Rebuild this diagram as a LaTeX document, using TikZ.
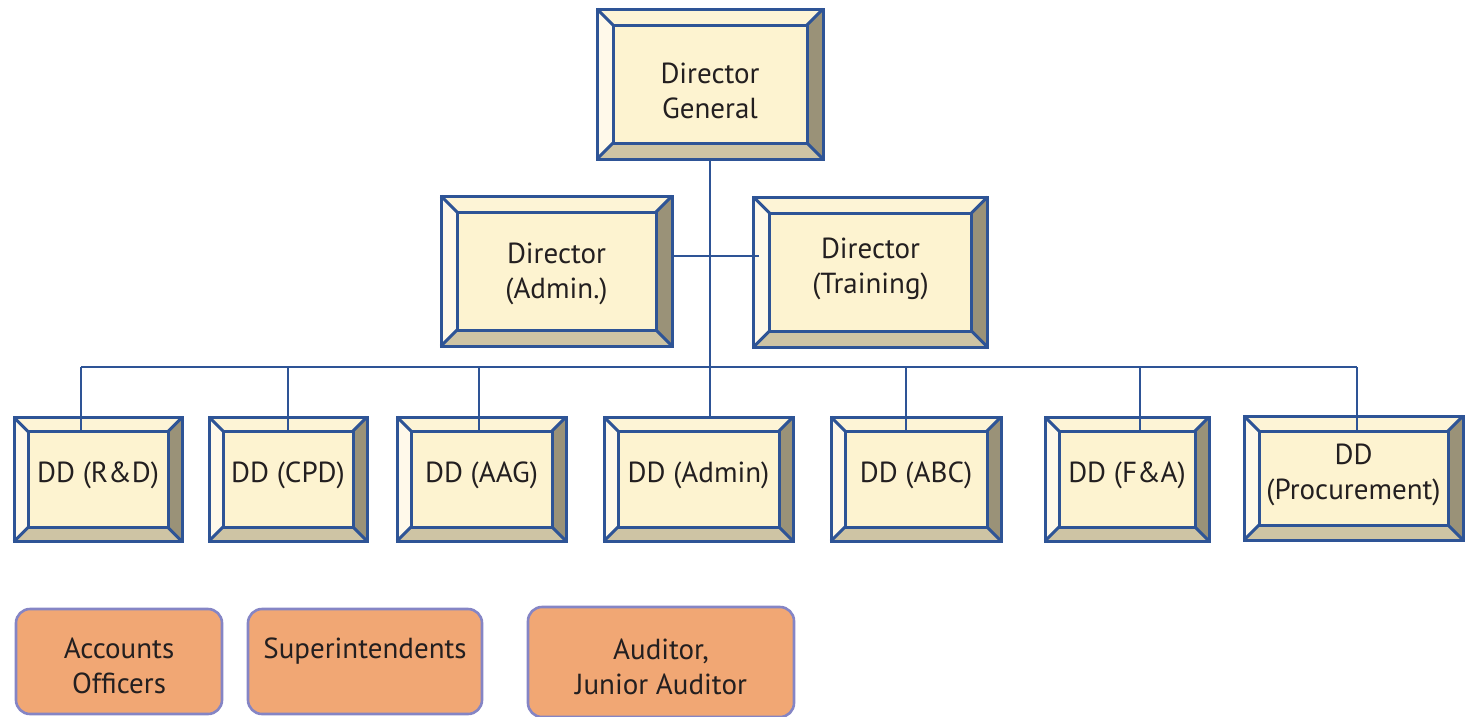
\documentclass[tikz,border=0pt]{standalone}
\usepackage{fontspec}
\setmainfont{PT Sans}
\definecolor{edgeblue}{HTML}{2E5496}
\definecolor{facecol}{HTML}{FDF3D0}
\definecolor{bevtop}{HTML}{FDF4D6}
\definecolor{bevleft}{HTML}{FFF9EA}
\definecolor{bevright}{HTML}{9A9278}
\definecolor{bevbot}{HTML}{CEC4A4}
\definecolor{staffcol}{HTML}{F1A774}
\definecolor{staffedge}{HTML}{8585C5}
\definecolor{inkcol}{HTML}{231F20}
\tikzset{
  boxframe/.style={inner sep=0pt, outer sep=0pt, draw=none, fill=none},
  edgeline/.style={draw=edgeblue, line width=3pt, line join=miter},
  wire/.style={draw=edgeblue, line width=2.6pt},
  boxtext/.style={font=\fontsize{29}{35}\selectfont, text=inkcol, align=center, inner sep=0pt},
  staffbox/.style={draw=staffedge, fill=staffcol, line width=2.6pt, rounded corners=14pt, inner sep=0pt},
}
% #1 name, #2 centre x, #3 centre y, #4 width, #5 height, #6 bevel, #7 text offset, #8 text
\newcommand\bevelbox[8]{%
  \node[boxframe, minimum width=#4pt, minimum height=#5pt] (#1) at (#2,#3) {};
  \node[boxframe, minimum width=#4pt-2*#6pt, minimum height=#5pt-2*#6pt] (#1-in) at (#2,#3) {};
  \fill[bevtop] (#1.north west) -- (#1.north east) -- (#1-in.north east) -- (#1-in.north west) -- cycle;
  \fill[bevleft] (#1.north west) -- (#1-in.north west) -- (#1-in.south west) -- (#1.south west) -- cycle;
  \fill[bevright] (#1.north east) -- (#1.south east) -- (#1-in.south east) -- (#1-in.north east) -- cycle;
  \fill[bevbot] (#1.south west) -- (#1.south east) -- (#1-in.south east) -- (#1-in.south west) -- cycle;
  \fill[facecol] (#1-in.north west) rectangle (#1-in.south east);
  \draw[edgeline] (#1.north west) rectangle (#1.south east);
  \draw[edgeline] (#1-in.north west) rectangle (#1-in.south east);
  \draw[edgeline] (#1.north west) -- (#1-in.north west)
                  (#1.north east) -- (#1-in.north east)
                  (#1.south west) -- (#1-in.south west)
                  (#1.south east) -- (#1-in.south east);
  \node[boxtext] (#1-t) at (#2,#3+#7) {#8};
}
% #1 name, #2 centre x, #3 centre y, #4 width, #5 height, #6 text offset, #7 text
\newcommand\staffgrade[7]{%
  \node[staffbox, minimum width=#4pt, minimum height=#5pt] (#1) at (#2,#3) {};
  \node[boxtext] (#1-t) at (#2,#3+#6) {#7};
}
\begin{document}
\begin{tikzpicture}[x=1pt,y=-1pt]
  \useasboundingbox (0,0) rectangle (1472,716);

  % directors
  \bevelbox{dg}{710}{84}{226}{150}{16}{7}{Director\\General}
  \bevelbox{da}{556.5}{271}{231}{150}{16}{3}{Director\\(Admin.)}
  \bevelbox{dt}{870.5}{272}{234}{150}{16}{-3}{Director\\(Training)}

  % deputy directors
  \bevelbox{dd1}{98}{479.5}{168}{124}{14}{-4}{DD (R\&D)}
  \bevelbox{dd2}{288}{479}{158}{124}{14}{-4}{DD (CPD)}
  \bevelbox{dd3}{481.5}{479}{169}{124}{14}{-4}{DD (AAG)}
  \bevelbox{dd4}{698.5}{479}{189}{124}{14}{-4}{DD (Admin)}
  \bevelbox{dd5}{916}{479}{170}{124}{14}{-4}{DD (ABC)}
  \bevelbox{dd6}{1127}{479}{164}{124}{14}{-4}{DD (F\&A)}
  \bevelbox{dd7}{1353.5}{478}{219}{124}{15}{-3}{DD\\(Procurement)}

  % connectors
  \draw[wire] (dg.south) -- (dg.south |- dd4.north);
  \draw[wire] ([yshift=15pt]da.east) -- ([xshift=5pt,yshift=15pt]da.east -| dt.west);

  \coordinate (b1) at (81,367);
  \coordinate (b2) at (288,367);
  \coordinate (b3) at (479,367);
  \coordinate (b5) at (906,367);
  \coordinate (b6) at (1140,367);
  \coordinate (b7) at (1357,367);
  \draw[wire] (b1) -- (b7);
  \draw[wire] (b1) -- (b1 |- dd1-in.north);
  \draw[wire] (b2) -- (b2 |- dd2-in.north);
  \draw[wire] (b3) -- (b3 |- dd3-in.north);
  \draw[wire] (b5) -- (b5 |- dd5-in.north);
  \draw[wire] (b6) -- (b6 |- dd6-in.north);
  \draw[wire] (b7) -- (b7 |- dd7-in.north);

  % staff grades
  \staffgrade{s1}{119}{661.5}{206}{105}{4}{Accounts\\Officers}
  \staffgrade{s2}{365}{661.5}{234}{105}{4}{Superintendents\\\phantom{Officers}}
  \staffgrade{s3}{661}{662}{266}{110}{5}{Auditor,\\Junior Auditor}
\end{tikzpicture}
\end{document}
